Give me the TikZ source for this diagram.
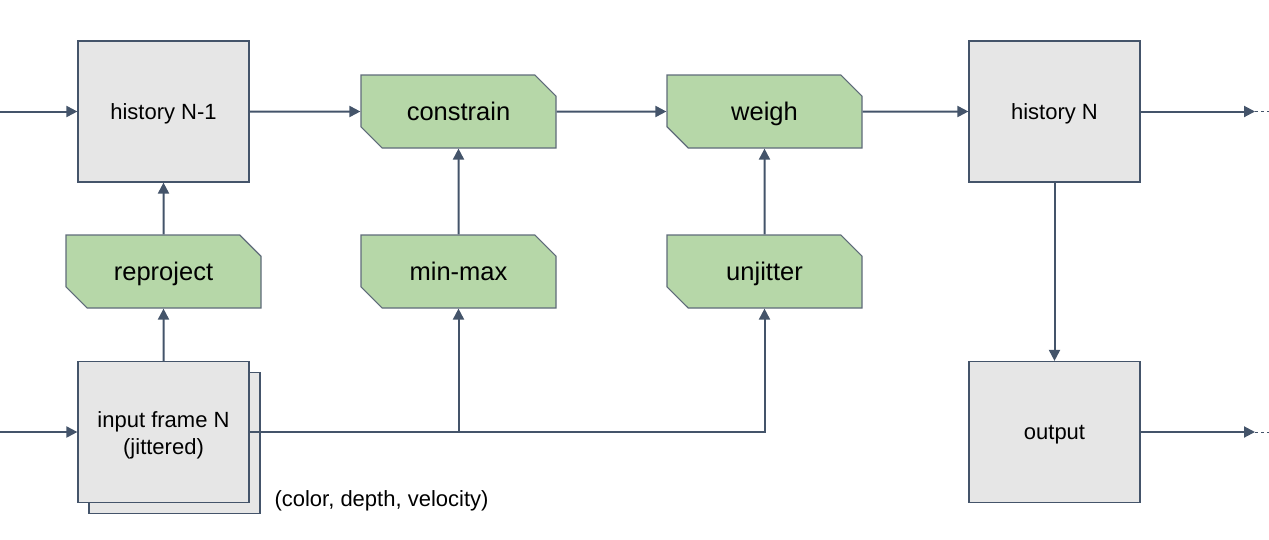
\documentclass[tikz,border=0pt]{standalone}
\usepackage{fontspec}
\setmainfont{Liberation Sans}
\usetikzlibrary{shapes.misc,arrows.meta}
\definecolor{lineC}{HTML}{44546A}
\definecolor{boxfill}{HTML}{E6E6E6}
\definecolor{greenfill}{HTML}{B6D7A8}
\definecolor{greenborder}{HTML}{5F6B7A}
\begin{document}
\begin{tikzpicture}[x=1pt,y=-1pt,
  graybox/.style={draw=lineC, line width=1.2pt, fill=boxfill, minimum width=171pt, minimum height=141pt, inner sep=0pt, font=\fontsize{22}{27}\selectfont, align=center, text height=15.8pt, text depth=0pt},
  greenbox/.style={chamfered rectangle, chamfered rectangle corners={north east,south west}, chamfered rectangle xsep=12pt, chamfered rectangle ysep=12pt, draw=greenborder, line width=1.2pt, fill=greenfill, minimum width=195pt, minimum height=73pt, inner sep=0pt, font=\fontsize{25.5}{30}\selectfont, text height=18.3pt, text depth=0pt},
  conn/.style={draw=lineC, line width=2pt, -{Triangle[length=11pt,width=11pt]}},
  tail/.style={draw=lineC, line width=1pt, dash pattern=on 3pt off 3pt},
  ]
\useasboundingbox (0,0) rectangle (1269,539);
% gray boxes
\node[graybox] (h1) at (163.5,111.5) {history N-1};
\node[graybox] (hN) at (1054.5,111.5) {history N};
\node[graybox] (out) at (1054.5,432) {output};
\node[graybox] (infs) at (174.5,443) {};
\node[graybox, text height=, text depth=] (inf) at (163.5,432) {\rule{0pt}{21.8pt}input frame N\\(jittered)};
% green boxes
\node[greenbox] (con) at (458.5,111.5) {constrain};
\node[greenbox] (wei) at (764.5,111.5) {weigh};
\node[greenbox] (rep) at (163.5,271.5) {reproject};
\node[greenbox] (mm) at (458.5,271.5) {min-max};
\node[greenbox] (unj) at (764.5,271.5) {unjitter};
% label
\node[font=\fontsize{22}{25}\selectfont, text height=15.8pt, text depth=0pt] (cdv) at (381.5,499) {(color, depth, velocity)};
% coordinates
\coordinate (inL) at (0,111.5);
\coordinate (in2L) at (0,432);
\coordinate (hNend) at (1255,111.5);
\coordinate (hNdash) at (1269,111.5);
\coordinate (outend) at (1255,432);
\coordinate (outdash) at (1269,432);
% connectors
\draw[conn] (inL) -- (h1);
\draw[conn] (in2L) -- (inf);
\draw[conn] (h1) -- (con);
\draw[conn] (con) -- (wei);
\draw[conn] (wei) -- (hN);
\draw[conn] (hN) -- (hNend);
\draw[tail] (hNend) -- (hNdash);
\draw[conn] (hN) -- (out);
\draw[conn] (out) -- (outend);
\draw[tail] (outend) -- (outdash);
\draw[conn] (inf) -- (rep);
\draw[conn] (rep) -- (h1);
\draw[conn] (mm) -- (con);
\draw[conn] (unj) -- (wei);
\draw[conn] (inf.east) -| (mm.south);
\draw[conn] (inf.east) -| (unj.south);
\end{tikzpicture}
\end{document}
